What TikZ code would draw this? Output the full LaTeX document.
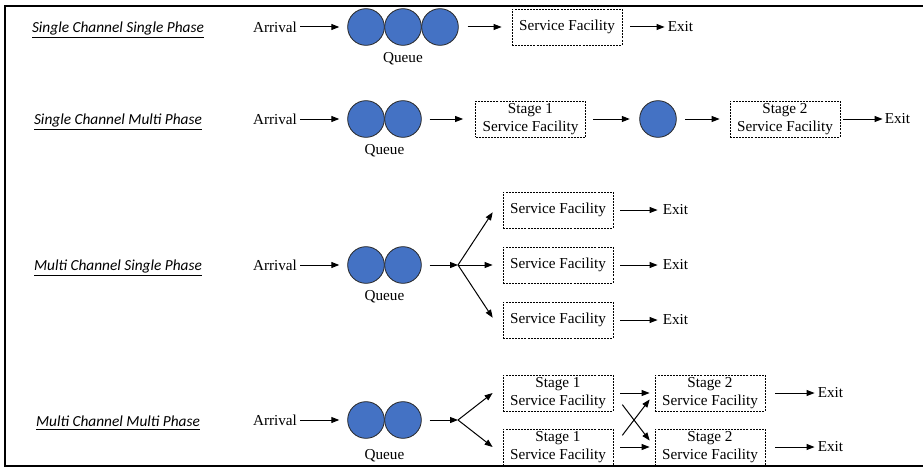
\documentclass[tikz,border=0pt]{standalone}
\usepackage{fontspec}
\setmainfont{Liberation Serif}
\newfontfamily\labelfont{Carlito}
\usetikzlibrary{positioning}
\usetikzlibrary{arrows.meta}
\definecolor{queueblue}{HTML}{4472C4}
\tikzset{
    every node/.append style={
        font=\rmfamily\fontsize{11.4}{13.5}\selectfont
    },
    plain/.style={
        inner sep=0pt
    },
    title/.style={
        inner sep=0pt,
        font=\labelfont\itshape\fontsize{11.5}{13.5}\selectfont
    },
    customer/.style={
        circle,
        draw=black!85,
        line width=0.6pt,
        fill=queueblue,
        minimum size=27.5pt,
        inner sep=0pt
    },
    facility/.style={
        draw,
        line width=0.6pt,
        dash pattern=on 1.5pt off 0.8pt,
        minimum width=82.5pt,
        minimum height=27pt,
        inner sep=1pt,
        align=center
    },
    every edge/.append style={
        draw,
        -{Triangle[length=6pt,width=4.5pt]},
        line width=0.75pt
    }
}

\begin{document}
\begin{tikzpicture}[x=0.75pt, y=-0.75pt]
    \useasboundingbox (0,0) rectangle (923,467);
    \draw[line width=1.5pt] (923,5.8) -- (4.5,5.8) -- (4.5,466) -- (923,466);

    % single channel, single phase
    \node[title] (t1) at (118,30) {\underline{Single Channel Single Phase}};
    \node[plain] (arr1) at (275,27) {Arrival};
    \node[customer] (q1a) at (366,27) {};
    \node[customer] (q1b) at (403,27) {};
    \node[customer] (q1c) at (440,27) {};
    \node[plain] (lq1) at (403,59) {Queue};
    \node[facility] (sf1) at (567,27) {Service Facility};
    \node[plain] (ex1) at (680.5,27) {Exit};
    \draw (arr1) edge[shorten <=2.25pt, shorten >=6pt] (q1a);
    \draw (q1c) edge[shorten <=6.75pt, shorten >=7.5pt] (sf1);
    \draw (sf1) edge[shorten <=6pt, shorten >=2.25pt] (ex1);

    % single channel, multi phase
    \node[title] (t2) at (118,122) {\underline{Single Channel Multi Phase}};
    \node[plain] (arr2) at (275,119) {Arrival};
    \node[customer] (q2a) at (366,119) {};
    \node[customer] (q2b) at (403,119) {};
    \node[plain] (lq2) at (384.5,151) {Queue};
    \node[facility] (st21) at (530.5,119) {Stage 1\\Service Facility};
    \node[customer] (c2) at (658,119) {};
    \node[facility] (st22) at (785,119) {Stage 2\\Service Facility};
    \node[plain] (ex2) at (897.5,119) {Exit};
    \draw (arr2) edge[shorten <=2.25pt, shorten >=6pt] (q2a);
    \draw (q2b) edge[shorten <=6pt, shorten >=9pt] (st21);
    \draw (st21) edge[shorten <=5.6pt, shorten >=7.1pt] (c2);
    \draw (c2) edge[shorten <=6.4pt, shorten >=7.5pt] (st22);
    \draw (st22) edge[shorten <=2.25pt, shorten >=1.5pt] (ex2);

    % multi channel, single phase
    \node[title] (t3) at (118,268) {\underline{Multi Channel Single Phase}};
    \node[plain] (arr3) at (275,265) {Arrival};
    \node[customer] (q3a) at (366,265) {};
    \node[customer] (q3b) at (403,265) {};
    \node[plain] (lq3) at (384.5,297) {Queue};
    \coordinate (f3) at (458,265);
    \node[facility] (sf31) at (558,210) {Service Facility};
    \node[facility] (sf32) at (558,265) {Service Facility};
    \node[facility] (sf33) at (558,320) {Service Facility};
    \node[plain] (ex31) at (675.5,210) {Exit};
    \node[plain] (ex32) at (675.5,265) {Exit};
    \node[plain] (ex33) at (675.5,320) {Exit};
    \draw (arr3) edge[shorten <=2.25pt, shorten >=6pt] (q3a);
    \draw (q3b) edge[shorten <=6pt] (f3);
    \draw (f3) edge[shorten >=13.5pt] (sf31.167)
        edge[shorten >=7.5pt] (sf32.west)
        edge[shorten >=13.5pt] (sf33.193);
    \draw (sf31) edge[shorten <=5.25pt, shorten >=3.75pt] (ex31);
    \draw (sf32) edge[shorten <=5.25pt, shorten >=3.75pt] (ex32);
    \draw (sf33) edge[shorten <=5.25pt, shorten >=3.75pt] (ex33);

    % multi channel, multi phase
    \node[title] (t4) at (118,423) {\underline{Multi Channel Multi Phase}};
    \node[plain] (arr4) at (275,420) {Arrival};
    \node[customer] (q4a) at (366,420) {};
    \node[customer] (q4b) at (403,420) {};
    \node[plain] (lq4) at (384.5,456) {Queue};
    \coordinate (f4) at (458,420);
    \node[facility] (st41) at (558,393) {Stage 1\\Service Facility};
    \node[facility] (st42) at (558,447) {Stage 1\\Service Facility};
    \node[facility] (st51) at (710,393) {Stage 2\\Service Facility};
    \node[facility] (st52) at (710,447) {Stage 2\\Service Facility};
    \node[plain] (ex41) at (830.5,393) {Exit};
    \node[plain] (ex42) at (830.5,447) {Exit};
    \draw (arr4) edge[shorten <=2.25pt, shorten >=6pt] (q4a);
    \draw (q4b) edge[shorten <=6pt] (f4);
    \draw (f4) edge[shorten >=9.5pt] (st41.172)
        edge[shorten >=9.5pt] (st42.188);
    \draw (st41) edge[shorten <=5.25pt, shorten >=3.75pt] (st51);
    \draw (st42) edge[shorten <=5.25pt, shorten >=3.75pt] (st52);
    \draw (st41.east) edge[shorten <=11pt, shorten >=6.1pt] (st52.west);
    \draw (st42.east) edge[shorten <=11pt, shorten >=6.1pt] (st51.west);
    \draw (st51) edge[shorten <=7.5pt, shorten >=2.25pt] (ex41);
    \draw (st52) edge[shorten <=7.5pt, shorten >=2.25pt] (ex42);
\end{tikzpicture}
\end{document}
